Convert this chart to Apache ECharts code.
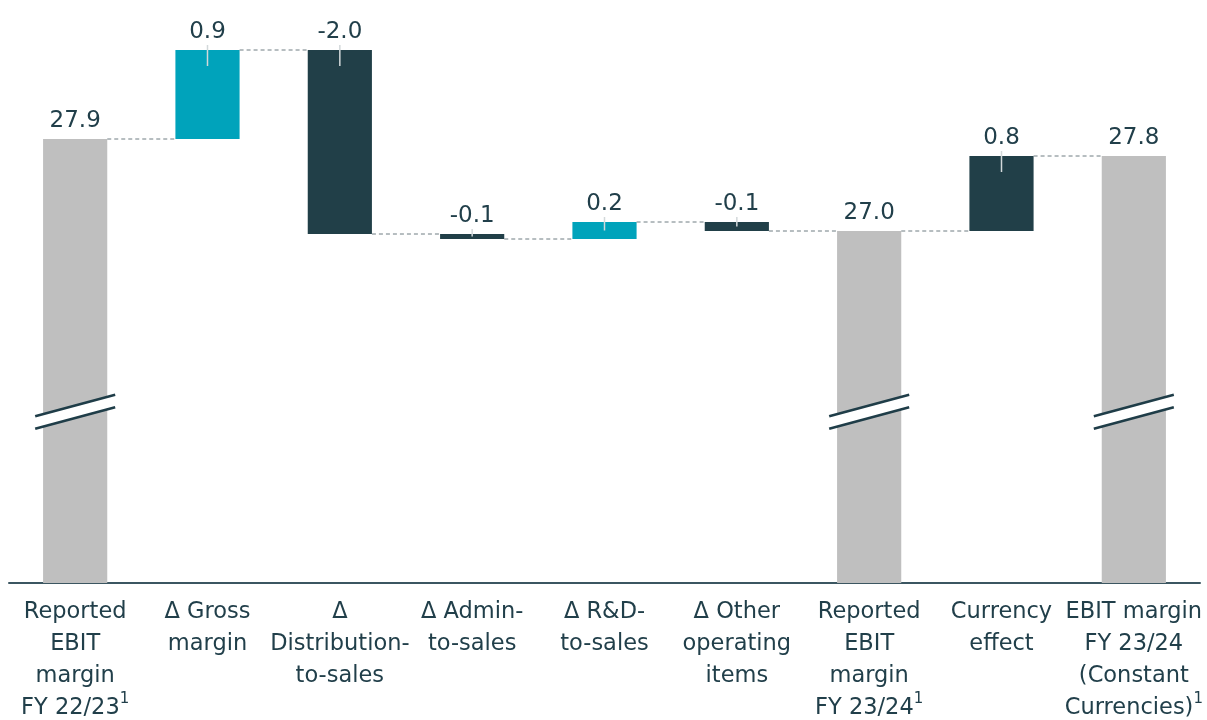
<!DOCTYPE html>
<html>
<head>
<meta charset="utf-8">
<script src="https://cdn.jsdelivr.net/npm/echarts@6/dist/echarts.min.js"></script>
<style>
html,body{margin:0;padding:0;background:#fff;}
#chart{width:1207px;height:720px;}
</style>
</head>
<body>
<div id="chart"></div>
<script>
// ---- data ----
const categories = [
  'Reported\nEBIT\nmargin\nFY 22/23{sup|1}',
  'Δ Gross\nmargin',
  'Δ\nDistribution-\nto-sales',
  'Δ Admin-\nto-sales',
  'Δ R&D-\nto-sales',
  'Δ Other\noperating\nitems',
  'Reported\nEBIT\nmargin\nFY 23/24{sup|1}',
  'Currency\neffect',
  'EBIT margin\nFY 23/24\n(Constant\nCurrencies){sup|1}'
];
const valueLabels = ['27.9', '0.9', '-2.0', '-0.1', '0.2', '-0.1', '27.0', '0.8', '27.8'];
// level (EBIT margin, %) where each bar starts (null = total bar from axis) and ends
const startLevels = [null, 27.92, 28.81, 26.97, 26.92, 27.09, null, 27.00, null];
const endLevels   = [27.92, 28.81, 26.97, 26.92, 27.09, 27.00, 27.00, 27.75, 27.75];
const barKinds = ['total', 'increase', 'decrease', 'decrease', 'increase', 'decrease', 'total', 'currency', 'total'];

// ---- chart ----
const Y_MIN = 23.48, Y_MAX = 29.31;
const BREAK_LEVEL = 25.19;
const FONT = '"DejaVu Sans", "Noto Sans", sans-serif';
const TEXT = '#213f4a';
const kindColor = { total: '#bfbfbf', increase: '#00a3bb', decrease: '#213f48', currency: '#213f48' };

const seriesData = categories.map((c, i) => [i, startLevels[i] == null ? Y_MIN : startLevels[i], endLevels[i]]);

function renderItem(params, api) {
  const i = api.value(0);
  const s = api.value(1), e = api.value(2);
  const band = api.size([1, 0])[0];
  const w = band * 0.485;
  const top = Math.max(s, e), bot = Math.min(s, e);
  const pTop = api.coord([i, top]);
  const pBot = api.coord([i, bot]);
  const cx = pTop[0];
  const kind = barKinds[i];
  const children = [];
  children.push({
    type: 'rect',
    shape: { x: cx - w / 2, y: pTop[1], width: w, height: pBot[1] - pTop[1] },
    style: { fill: kindColor[kind] }
  });
  if (i < categories.length - 1) {
    const yEnd = api.coord([i, e])[1];
    children.push({
      type: 'line',
      shape: { x1: cx + w / 2, y1: yEnd, x2: cx + band - w / 2, y2: yEnd },
      style: { stroke: '#6f7d82', lineWidth: 1, lineDash: [4, 3] }
    });
  }
  if (kind !== 'total') {
    const h = pBot[1] - pTop[1];
    children.push({
      type: 'line',
      shape: { x1: cx, y1: pTop[1] - 5, x2: cx, y2: pTop[1] + Math.min(16, h / 2) },
      style: { stroke: '#d3d8da', lineWidth: 1.5 }
    });
  } else {
    const cy = api.coord([i, BREAK_LEVEL])[1];
    const hx = 40, dy = 10.8;
    children.push({
      type: 'polygon',
      shape: { points: [[cx - hx, cy - 6.5 + dy], [cx + hx, cy - 6.5 - dy], [cx + hx, cy + 6 - dy], [cx - hx, cy + 6 + dy]] },
      style: { fill: '#ffffff' }
    });
    children.push({
      type: 'line',
      shape: { x1: cx - hx, y1: cy - 6.5 + dy, x2: cx + hx, y2: cy - 6.5 - dy },
      style: { stroke: '#1f3d48', lineWidth: 2.5 }
    });
    children.push({
      type: 'line',
      shape: { x1: cx - hx, y1: cy + 6 + dy, x2: cx + hx, y2: cy + 6 - dy },
      style: { stroke: '#1f3d48', lineWidth: 2.5 }
    });
  }
  children.push({
    type: 'text',
    style: {
      x: cx, y: pTop[1] - 6,
      text: valueLabels[i],
      align: 'center', verticalAlign: 'bottom',
      fill: TEXT, fontSize: 23, fontFamily: FONT
    }
  });
  return { type: 'group', children };
}

const chart = echarts.init(document.getElementById('chart'), null, { renderer: 'canvas' });
chart.setOption({
  animation: false,
  backgroundColor: '#ffffff',
  grid: { left: 9, right: 7, top: 0, bottom: 137, containLabel: false, outerBoundsMode: 'none' },
  xAxis: {
    type: 'category',
    data: categories,
    axisLine: { show: true, lineStyle: { color: '#3b5661', width: 2 } },
    axisTick: { show: false },
    splitLine: { show: false },
    axisLabel: {
      interval: 0,
      hideOverlap: false,
      margin: 13,
      color: TEXT,
      fontSize: 22.5,
      lineHeight: 32,
      fontFamily: FONT,
      rich: {
        sup: { fontSize: 15, color: TEXT, fontFamily: FONT, verticalAlign: 'top', lineHeight: 32, padding: [0, 0, 3, 0] }
      }
    }
  },
  yAxis: {
    type: 'value', min: Y_MIN, max: Y_MAX, show: false, splitLine: { show: false }
  },
  series: [{
    type: 'custom',
    renderItem: renderItem,
    clip: false,
    encode: { x: 0, y: [1, 2] },
    data: seriesData
  }]
});
</script>
</body>
</html>
